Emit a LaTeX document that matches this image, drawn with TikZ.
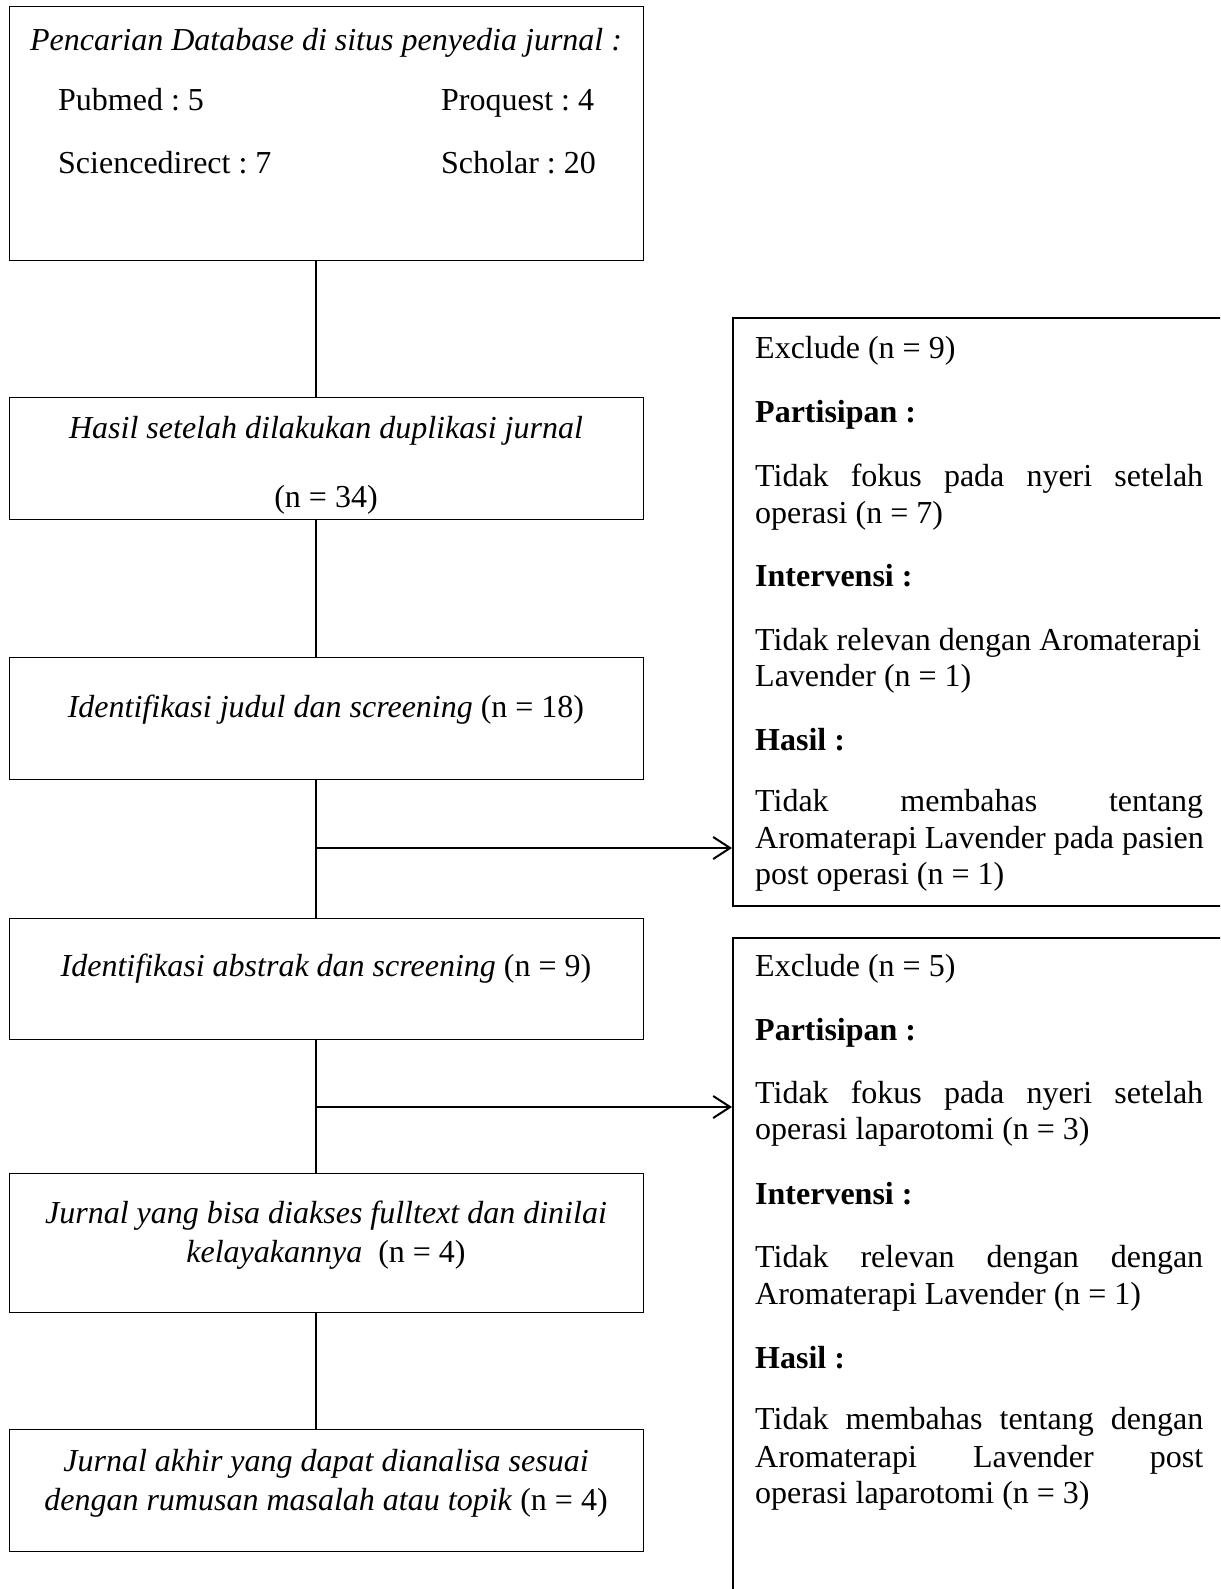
\documentclass[tikz,border=0pt]{standalone}
\usepackage{fontspec}
\setmainfont{Liberation Serif}
\usetikzlibrary{arrows.meta}
\frenchspacing
\begin{document}
\frenchspacing
\begin{tikzpicture}[x=1pt,y=-1pt,
  every node/.style={font=\fontsize{32}{37}\selectfont},
  box/.style={draw, line width=1.2pt, inner sep=0pt, minimum width=634pt, anchor=north west},
  exbox/.style={draw, line width=2pt, inner sep=0pt, minimum width=540pt, anchor=north west},
  lbl/.style={inner sep=0pt, text height=26pt, text depth=3pt},
  wl/.style={lbl, anchor=west},
  conn/.style={line width=1.6pt},
  arr/.style={line width=2pt, -{Straight Barb[length=17pt,width=22pt]}}]
\useasboundingbox (0,0) rectangle (1220,1589);
\clip (0,0) rectangle (1220,1589);
% left column boxes
\node[box, minimum height=254pt] (b1) at (9,6) {};
\node[box, minimum height=122pt] (b2) at (9,397) {};
\node[box, minimum height=122pt] (b3) at (9,657) {};
\node[box, minimum height=121pt] (b4) at (9,918) {};
\node[box, minimum height=139pt] (b5) at (9,1173) {};
\node[box, minimum height=122pt] (b6) at (9,1429) {};
% exclusion boxes
\node[exbox, minimum height=588pt] (e1) at (732,317) {};
\node[exbox, minimum height=720pt] (e2) at (732,937) {};
% box 1 texts
\node[lbl] (t1) at (326,39) {\textit{Pencarian Database di situs penyedia jurnal :}};
\node[wl] (t1a) at (58,99) {Pubmed : 5};
\node[wl] (t1b) at (441,99) {Proquest : 4};
\node[wl] (t1c) at (58,162) {Sciencedirect : 7};
\node[wl] (t1d) at (441,162) {Scholar : 20};
% box 2..6 texts
\node[lbl] (t2a) at (326,427) {\textit{Hasil setelah dilakukan duplikasi jurnal}};
\node[lbl] (t2b) at (326,496) {(n = 34)};
\node[lbl] (t3) at (326,706) {\textit{Identifikasi judul dan screening} (n = 18)};
\node[lbl] (t4) at (326,965) {\textit{Identifikasi abstrak dan screening} (n = 9)};
\node[lbl] (t5a) at (326,1212) {\textit{Jurnal yang bisa diakses fulltext dan dinilai}};
\node[lbl] (t5b) at (326,1251) {\textit{kelayakannya}\hspace{16pt}(n = 4)};
\node[lbl] (t6a) at (326,1460) {\textit{Jurnal akhir yang dapat dianalisa sesuai}};
\node[lbl] (t6b) at (326,1499) {\textit{dengan rumusan masalah atau topik} (n = 4)};
% exclusion box 1 texts
\node[wl] (x1) at (755,347) {Exclude (n = 9)};
\node[wl] (x2) at (755,411) {\textbf{Partisipan :}};
\node[wl] (x3) at (755,475) {\makebox[448pt][s]{Tidak fokus pada nyeri setelah}};
\node[wl] (x4) at (755,512) {operasi (n = 7)};
\node[wl] (x5) at (755,575) {\textbf{Intervensi :}};
\node[wl] (x6) at (755,639) {Tidak relevan dengan Aromaterapi};
\node[wl] (x7) at (755,675) {Lavender (n = 1)};
\node[wl] (x8) at (755,739) {\textbf{Hasil :}};
\node[wl] (x9) at (755,800) {\makebox[448pt][s]{Tidak membahas tentang}};
\node[wl] (x10) at (755,837) {Aromaterapi Lavender pada pasien};
\node[wl] (x11) at (755,873) {post operasi (n = 1)};
% exclusion box 2 texts
\node[wl] (y1) at (755,965) {Exclude (n = 5)};
\node[wl] (y2) at (755,1029) {\textbf{Partisipan :}};
\node[wl] (y3) at (755,1092) {\makebox[448pt][s]{Tidak fokus pada nyeri setelah}};
\node[wl] (y4) at (755,1128) {operasi laparotomi (n = 3)};
\node[wl] (y5) at (755,1193) {\textbf{Intervensi :}};
\node[wl] (y6) at (755,1256) {\makebox[448pt][s]{Tidak relevan dengan dengan}};
\node[wl] (y7) at (755,1293) {Aromaterapi Lavender (n = 1)};
\node[wl] (y8) at (755,1357) {\textbf{Hasil :}};
\node[wl] (y9) at (755,1418) {\makebox[448pt][s]{Tidak membahas tentang dengan}};
\node[wl] (y10) at (755,1456) {\makebox[448pt][s]{Aromaterapi Lavender post}};
\node[wl] (y11) at (755,1492) {operasi laparotomi (n = 3)};
% connectors
\coordinate (vx) at (316,0);
\coordinate (j1) at (316,848);
\coordinate (j2) at (316,1107);
\draw[conn] (vx |- b1.south) -- (vx |- b2.north);
\draw[conn] (vx |- b2.south) -- (vx |- b3.north);
\draw[conn] (vx |- b3.south) -- (vx |- b4.north);
\draw[conn] (vx |- b4.south) -- (vx |- b5.north);
\draw[conn] (vx |- b5.south) -- (vx |- b6.north);
\draw[arr] (j1) -- (j1 -| e1.west);
\draw[arr] (j2) -- (j2 -| e2.west);
\end{tikzpicture}
\end{document}
